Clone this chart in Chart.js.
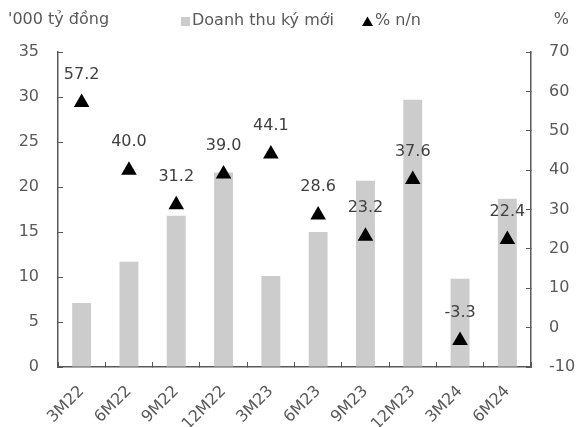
<!DOCTYPE html>
<html>
<head>
<meta charset="utf-8">
<script src="https://cdn.jsdelivr.net/npm/chart.js@4"></script>
<style>
  html, body { margin: 0; padding: 0; background: #fff; }
</style>
</head>
<body>
<canvas id="myChart" width="578" height="427"></canvas>
<script>
// periods, revenue ('000 bn VND) and y/y growth (%)
const periods = ["3M22", "6M22", "9M22", "12M22", "3M23", "6M23", "9M23", "12M23", "3M24", "6M24"];
const revenue = [7.1, 11.7, 16.8, 21.6, 10.1, 15.0, 20.7, 29.7, 9.8, 18.7];
const growth = [57.2, 40.0, 31.2, 39.0, 44.1, 28.6, 23.2, 37.6, -3.3, 22.4];

const FONT = "'DejaVu Sans', Verdana, sans-serif";
const textColor = "#595959";
const labelColor = "#404040";
const axisColor = "#595959";
const barColor = "#cccccc";

// axis titles, legend, value labels above the triangles
const extras = {
  id: "extras",
  afterDraw(chart) {
    const ctx = chart.ctx;
    ctx.save();
    ctx.font = "16px " + FONT;
    ctx.textBaseline = "middle";

    // axis unit titles
    ctx.fillStyle = textColor;
    ctx.textAlign = "left";
    ctx.fillText("'000 tỷ đồng", 8, 20);
    ctx.textAlign = "right";
    ctx.fillText("%", 569, 20);

    // legend
    const ds = chart.data.datasets;
    ctx.textAlign = "left";
    ctx.fillStyle = barColor;
    ctx.fillRect(181, 17, 9, 9);
    ctx.fillStyle = textColor;
    ctx.fillText(ds[0].label, 192, 21);
    ctx.fillStyle = "#000";
    ctx.beginPath();
    ctx.moveTo(367.5, 16.5);
    ctx.lineTo(373, 26);
    ctx.lineTo(362, 26);
    ctx.closePath();
    ctx.fill();
    ctx.fillStyle = textColor;
    ctx.fillText(ds[1].label, 375, 21);

    // data labels
    const meta = chart.getDatasetMeta(1);
    ctx.fillStyle = labelColor;
    ctx.textAlign = "center";
    meta.data.forEach((pt, i) => {
      ctx.fillText(growth[i].toFixed(1), pt.x, pt.y - 28);
    });
    ctx.restore();
  },
};

Chart.register(extras);

const myChart = new Chart(document.getElementById("myChart"), {
  data: {
    labels: periods,
    datasets: [
      {
        type: "bar",
        label: "Doanh thu ký mới",
        data: revenue,
        yAxisID: "y",
        backgroundColor: barColor,
        categoryPercentage: 0.8,
        barPercentage: 0.5,
        order: 1,
      },
      {
        type: "line",
        label: "% n/n",
        data: growth,
        yAxisID: "y1",
        showLine: false,
        pointStyle: "triangle",
        pointRadius: 9,
        pointBackgroundColor: "#000",
        pointBorderWidth: 0,
        borderColor: "#000",
        order: 0,
      },
    ],
  },
  options: {
    responsive: false,
    animation: false,
    layout: { padding: { top: 52 } },
    plugins: {
      tooltip: { enabled: false },
      legend: { display: false },
    },
    scales: {
      x: {
        offset: true,
        grid: { offset: true, drawOnChartArea: false, tickLength: -5, color: axisColor },
        border: { color: axisColor, width: 1.5 },
        ticks: {
          minRotation: 45,
          maxRotation: 45,
          padding: 20,
          color: textColor,
          font: { family: FONT, size: 16 },
        },
        afterFit: (s) => { s.height = 60; },
      },
      y: {
        position: "left",
        min: 0,
        max: 35,
        grid: { drawOnChartArea: false, tickLength: -5, color: axisColor },
        border: { color: axisColor, width: 1.5 },
        ticks: {
          stepSize: 5,
          padding: 24,
          color: textColor,
          font: { family: FONT, size: 16 },
        },
        afterFit: (s) => { s.width = 58; },
      },
      y1: {
        position: "right",
        min: -10,
        max: 70,
        grid: { drawOnChartArea: false, tickLength: -5, color: axisColor },
        border: { color: axisColor, width: 1.5 },
        ticks: {
          stepSize: 10,
          padding: 23,
          color: textColor,
          font: { family: FONT, size: 16 },
        },
        afterFit: (s) => { s.width = 47; },
      },
    },
  },
});
</script>
</body>
</html>
